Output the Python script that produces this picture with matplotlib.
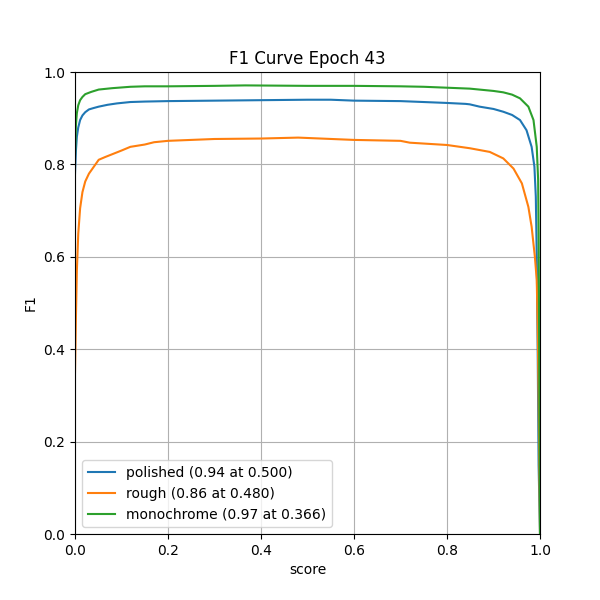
import matplotlib
matplotlib.use("Agg")
import matplotlib.pyplot as plt

title = "F1 Curve Epoch 43"

polished_x = [0.0, 0.002, 0.004, 0.007, 0.011, 0.016, 0.022, 0.03, 0.04, 0.051, 0.07, 0.09, 0.119, 0.15, 0.2, 0.3, 0.4, 0.5, 0.55, 0.6, 0.7, 0.75, 0.8, 0.84, 0.849, 0.87, 0.9, 0.921, 0.94, 0.957, 0.971, 0.982, 0.988, 0.991, 0.993, 0.995, 0.997, 1.0]
polished_y = [0.78, 0.83, 0.86, 0.88, 0.896, 0.906, 0.913, 0.919, 0.922, 0.925, 0.929, 0.932, 0.935, 0.936, 0.937, 0.938, 0.939, 0.94, 0.94, 0.938, 0.937, 0.935, 0.933, 0.931, 0.930, 0.925, 0.920, 0.914, 0.907, 0.896, 0.874, 0.838, 0.795, 0.73, 0.6, 0.4, 0.15, 0.0]

rough_x = [0.0, 0.002, 0.004, 0.007, 0.011, 0.016, 0.022, 0.03, 0.037, 0.044, 0.051, 0.065, 0.08, 0.1, 0.119, 0.15, 0.17, 0.2, 0.3, 0.4, 0.48, 0.6, 0.7, 0.72, 0.8, 0.849, 0.892, 0.921, 0.943, 0.961, 0.975, 0.982, 0.989, 0.993, 0.995, 0.997, 0.999, 1.0]
rough_y = [0.35, 0.47, 0.57, 0.65, 0.705, 0.74, 0.763, 0.78, 0.79, 0.80, 0.81, 0.816, 0.822, 0.830, 0.838, 0.843, 0.848, 0.851, 0.855, 0.856, 0.858, 0.853, 0.851, 0.847, 0.842, 0.835, 0.827, 0.813, 0.791, 0.759, 0.708, 0.665, 0.60, 0.55, 0.45, 0.3, 0.1, 0.0]

mono_x = [0.0, 0.002, 0.004, 0.007, 0.011, 0.016, 0.022, 0.035, 0.051, 0.08, 0.119, 0.15, 0.2, 0.3, 0.366, 0.5, 0.6, 0.7, 0.75, 0.8, 0.849, 0.9, 0.921, 0.94, 0.957, 0.975, 0.986, 0.993, 0.996, 0.997, 0.998, 0.999, 1.0]
mono_y = [0.82, 0.885, 0.911, 0.928, 0.939, 0.946, 0.952, 0.957, 0.962, 0.965, 0.968, 0.969, 0.969, 0.970, 0.971, 0.970, 0.970, 0.969, 0.968, 0.966, 0.964, 0.959, 0.956, 0.951, 0.943, 0.925, 0.896, 0.838, 0.766, 0.65, 0.45, 0.2, 0.0]

labels = ["polished (0.94 at 0.500)", "rough (0.86 at 0.480)", "monochrome (0.97 at 0.366)"]

fig, ax = plt.subplots(figsize=(6, 6), dpi=100)
ax.plot(polished_x, polished_y, label=labels[0], color="#1f77b4", linewidth=1.5)
ax.plot(rough_x, rough_y, label=labels[1], color="#ff7f0e", linewidth=1.5)
ax.plot(mono_x, mono_y, label=labels[2], color="#2ca02c", linewidth=1.5)
ax.set_xlim(0, 1)
ax.set_ylim(0, 1)
ax.grid(True)
ax.set_xlabel("score")
ax.set_ylabel("F1")
ax.set_title(title)
ax.legend(loc="lower left")
fig.savefig("out.png", dpi=100)
